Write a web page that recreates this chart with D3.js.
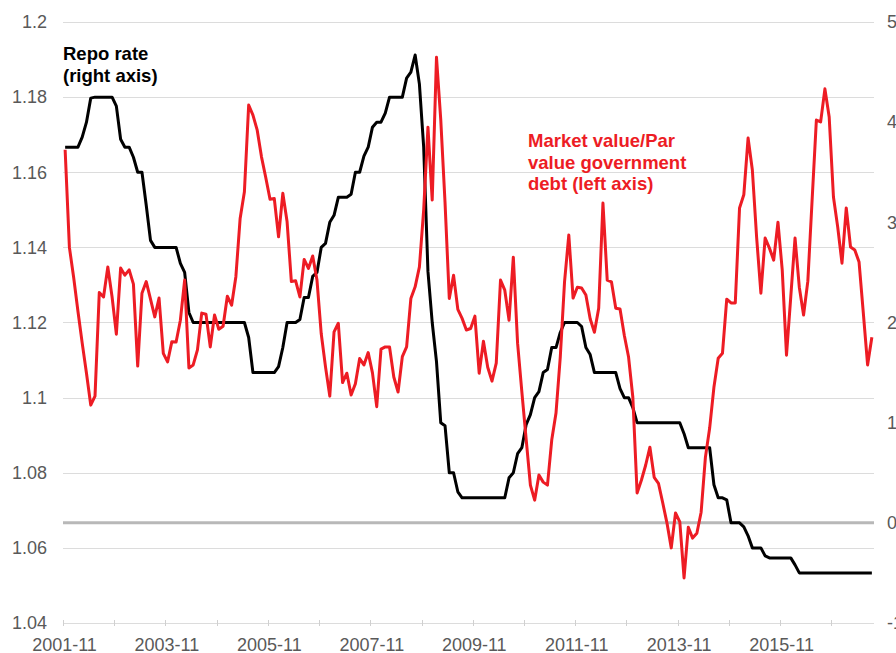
<!DOCTYPE html>
<html>
<head>
<meta charset="utf-8">
<script src="https://cdn.jsdelivr.net/npm/d3@7"></script>
<style>
  html, body { margin: 0; padding: 0; background: #fff; }
  svg { display: block; font-family: "Liberation Sans", Arial, sans-serif; }
</style>
</head>
<body>
<div id="chart"></div>
<script>
// monthly observations, 2001-11 .. 2017-08
const START_MONTH = "2001-11";

// market value / par value of government debt (left axis)
const marketPar = [
  1.166, 1.140, 1.132, 1.123, 1.1145, 1.1065, 1.098, 1.1004, 1.128, 1.1268,
  1.1348, 1.1268, 1.1169, 1.1345, 1.1326, 1.134, 1.1302, 1.1084, 1.1278, 1.1309,
  1.1262, 1.1215, 1.1265, 1.1118, 1.1095, 1.1149, 1.1148, 1.1206, 1.1313, 1.1079,
  1.1087, 1.1127, 1.1225, 1.1222, 1.1135, 1.122, 1.1182, 1.119, 1.127, 1.1246,
  1.1322, 1.1477, 1.1548, 1.1779, 1.1752, 1.1712, 1.1641, 1.1586, 1.1528, 1.153,
  1.1428, 1.1544, 1.1468, 1.1309, 1.1311, 1.1268, 1.1368, 1.1344, 1.1377, 1.1313,
  1.117, 1.1082, 1.1004, 1.1175, 1.1198, 1.104, 1.1065, 1.1007, 1.1037, 1.1104,
  1.1087, 1.112, 1.1066, 1.0976, 1.1129, 1.1135, 1.1135, 1.1055, 1.1015, 1.1109,
  1.1135, 1.1264, 1.1295, 1.1348, 1.150, 1.172, 1.1526, 1.1906, 1.174, 1.152,
  1.1264, 1.1326, 1.1235, 1.1211, 1.118, 1.1184, 1.1217, 1.1065, 1.115, 1.1081,
  1.1044, 1.1092, 1.1313, 1.1286, 1.1206, 1.1374, 1.1145, 1.1015, 1.089, 1.0767,
  1.0727, 1.0794, 1.0775, 1.0767, 1.0887, 1.0959, 1.1108, 1.1308, 1.1433, 1.1265,
  1.1294, 1.1292, 1.1273, 1.121, 1.1174, 1.1238, 1.1518, 1.1313, 1.1308, 1.1238,
  1.1236, 1.1166, 1.1108, 1.1001, 1.0746, 1.078, 1.082, 1.0868, 1.0788, 1.0772,
  1.072, 1.0666, 1.060, 1.0693, 1.0669, 1.052, 1.0655, 1.0626, 1.0639, 1.0695,
  1.0841, 1.0919, 1.1028, 1.1105, 1.1118, 1.1262, 1.1252, 1.1252, 1.1505, 1.154,
  1.1691, 1.1606, 1.1427, 1.1278, 1.1425, 1.1398, 1.1366, 1.1467, 1.134, 1.1113,
  1.1268, 1.1425, 1.1294, 1.122, 1.131, 1.1526, 1.1739, 1.1734, 1.1822, 1.1747,
  1.1534, 1.1454, 1.1358, 1.1505, 1.1401, 1.1393, 1.1361, 1.1225, 1.1087, 1.1161
];

// repo rate, monthly average, per cent (right axis)
const repoRate = [
  3.75, 3.75, 3.75, 3.75, 3.85, 4.0, 4.24, 4.25, 4.25, 4.25,
  4.25, 4.25, 4.16, 3.83, 3.75, 3.75, 3.65, 3.5, 3.5, 3.17,
  2.82, 2.75, 2.75, 2.75, 2.75, 2.75, 2.75, 2.59, 2.5, 2.1,
  2.0, 2.0, 2.0, 2.0, 2.0, 2.0, 2.0, 2.0, 2.0, 2.0,
  2.0, 2.0, 2.0, 1.85, 1.5, 1.5, 1.5, 1.5, 1.5, 1.5,
  1.56, 1.75, 2.0, 2.0, 2.0, 2.03, 2.25, 2.25, 2.46, 2.5,
  2.75, 2.79, 3.0, 3.07, 3.25, 3.25, 3.25, 3.28, 3.5, 3.5,
  3.66, 3.75, 3.95, 4.0, 4.0, 4.09, 4.25, 4.25, 4.25, 4.25,
  4.44, 4.5, 4.67, 4.38, 3.75, 2.51, 2.0, 1.61, 1.0, 0.97,
  0.5, 0.5, 0.31, 0.25, 0.25, 0.25, 0.25, 0.25, 0.25, 0.25,
  0.25, 0.25, 0.25, 0.25, 0.45, 0.5, 0.69, 0.75, 0.98, 1.08,
  1.25, 1.31, 1.5, 1.53, 1.75, 1.75, 1.9, 2.0, 2.0, 2.0,
  2.0, 1.96, 1.75, 1.68, 1.5, 1.5, 1.5, 1.5, 1.5, 1.5,
  1.34, 1.25, 1.25, 1.15, 1.0, 1.0, 1.0, 1.0, 1.0, 1.0,
  1.0, 1.0, 1.0, 1.0, 1.0, 0.89, 0.75, 0.75, 0.75, 0.75,
  0.75, 0.75, 0.38, 0.25, 0.25, 0.23, 0.0, 0.0, 0.0, -0.04,
  -0.13, -0.25, -0.25, -0.25, -0.33, -0.35, -0.35, -0.35, -0.35, -0.35,
  -0.35, -0.42, -0.5, -0.5, -0.5, -0.5, -0.5, -0.5, -0.5, -0.5,
  -0.5, -0.5, -0.5, -0.5, -0.5, -0.5, -0.5, -0.5, -0.5, -0.5
];

const leftTicks = [1.04, 1.06, 1.08, 1.1, 1.12, 1.14, 1.16, 1.18, 1.2];
const rightTicks = [-1, 0, 1, 2, 3, 4, 5];
const xTickLabels = ["2001-11", "2003-11", "2005-11", "2007-11", "2009-11", "2011-11", "2013-11", "2015-11"];

const repoLabel = ["Repo rate", "(right axis)"];
const marketLabel = ["Market value/Par", "value government", "debt (left axis)"];

const W = 896, H = 653;
const plot = {left: 63, right: 874, top: 22, bottom: 623};
const RED = "#ed1c24";
const GREY_TEXT = "#595959";

const n = marketPar.length;
const parseMonth = d3.timeParse("%Y-%m");
const fmtMonth = d3.timeFormat("%Y-%m");
const start = parseMonth(START_MONTH);
const months = d3.range(n).map((i) => fmtMonth(d3.timeMonth.offset(start, i)));

// category axis: each month is one slot, points sit in the middle of a slot
const x = d3.scaleLinear().domain([0, n]).range([plot.left, plot.right]);
const yL = d3.scaleLinear().domain([1.04, 1.2]).range([plot.bottom, plot.top]);
const yR = d3.scaleLinear().domain([-1, 5]).range([plot.bottom, plot.top]);

const svg = d3.select("#chart").append("svg")
  .attr("width", W)
  .attr("height", H)
  .attr("viewBox", `0 0 ${W} ${H}`);

// gridlines
svg.append("g")
  .selectAll("line")
  .data(leftTicks)
  .join("line")
  .attr("x1", plot.left)
  .attr("x2", plot.right)
  .attr("y1", (d) => Math.round(yL(d)) + 0.5)
  .attr("y2", (d) => Math.round(yL(d)) + 0.5)
  .attr("stroke", "#dcdcdc")
  .attr("stroke-width", 1);

// left axis labels
svg.append("g")
  .selectAll("text")
  .data(leftTicks)
  .join("text")
  .attr("x", 47)
  .attr("y", (d) => yL(d))
  .attr("dy", "0.35em")
  .attr("text-anchor", "end")
  .attr("font-size", 18)
  .attr("fill", GREY_TEXT)
  .text((d) => d3.format("")(d));

// right axis labels (run off the edge, as in the original)
svg.append("g")
  .selectAll("text")
  .data(rightTicks)
  .join("text")
  .attr("x", 887)
  .attr("y", (d) => yR(d))
  .attr("dy", "0.35em")
  .attr("text-anchor", "start")
  .attr("font-size", 18)
  .attr("fill", GREY_TEXT)
  .text((d) => d);

// x axis ticks (yearly) and labels (every two years)
const tickIdx = months.map((m, i) => i).filter((i) => months[i].endsWith("-11"));
svg.append("g")
  .selectAll("line")
  .data(tickIdx)
  .join("line")
  .attr("x1", (i) => Math.round(x(i)) + 0.5)
  .attr("x2", (i) => Math.round(x(i)) + 0.5)
  .attr("y1", plot.bottom - 3)
  .attr("y2", plot.bottom + 3)
  .attr("stroke", "#d0d0d0");

svg.append("g")
  .selectAll("text")
  .data(xTickLabels)
  .join("text")
  .attr("x", (d) => x(months.indexOf(d)) + 1.5)
  .attr("y", 651)
  .attr("text-anchor", "middle")
  .attr("font-size", 18)
  .attr("fill", GREY_TEXT)
  .text((d) => d);

// zero line of the right axis
svg.append("line")
  .attr("x1", plot.left)
  .attr("x2", plot.right)
  .attr("y1", yR(0))
  .attr("y2", yR(0))
  .attr("stroke", "#b8b8b8")
  .attr("stroke-width", 3);

const lineRepo = d3.line()
  .x((d, i) => x(i + 0.5))
  .y((d) => yR(d));
const lineMarket = d3.line()
  .x((d, i) => x(i + 0.5))
  .y((d) => yL(d));

svg.append("path")
  .datum(repoRate)
  .attr("d", lineRepo)
  .attr("fill", "none")
  .attr("stroke", "#000")
  .attr("stroke-width", 3)
  .attr("stroke-linejoin", "round");

svg.append("path")
  .datum(marketPar)
  .attr("d", lineMarket)
  .attr("fill", "none")
  .attr("stroke", RED)
  .attr("stroke-width", 3)
  .attr("stroke-linejoin", "round");

// series annotations
svg.append("text")
  .attr("x", 63)
  .attr("y", 60)
  .attr("font-size", 18.5)
  .attr("font-weight", "bold")
  .attr("fill", "#000")
  .selectAll("tspan")
  .data(repoLabel)
  .join("tspan")
  .attr("x", 63)
  .attr("dy", (d, i) => (i ? 21.5 : 0))
  .text((d) => d);

svg.append("text")
  .attr("x", 528)
  .attr("y", 147)
  .attr("font-size", 18.5)
  .attr("font-weight", "bold")
  .attr("fill", RED)
  .selectAll("tspan")
  .data(marketLabel)
  .join("tspan")
  .attr("x", 528)
  .attr("dy", (d, i) => (i ? 21.7 : 0))
  .text((d) => d);
</script>
</body>
</html>
